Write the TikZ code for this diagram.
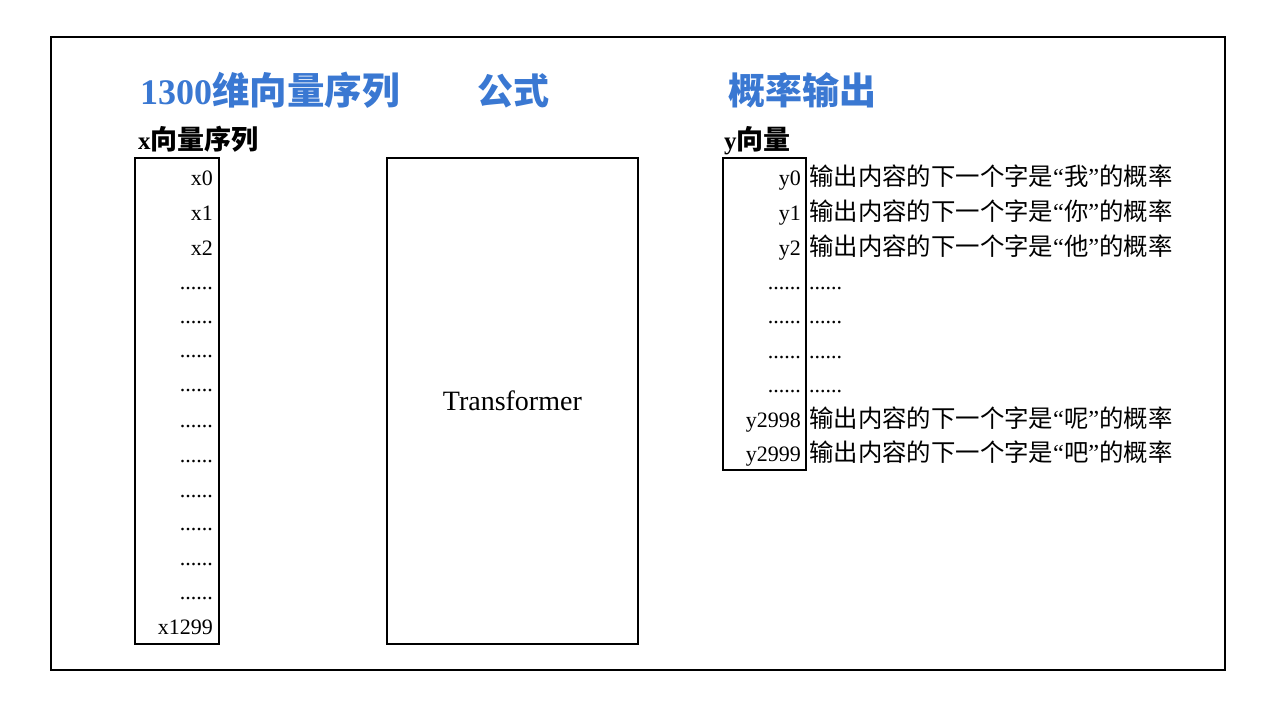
\documentclass[tikz,border=0pt]{standalone}
\usepackage{fontspec}
\setmainfont{Liberation Serif}
\newfontfamily\cjk{Noto Sans CJK SC}
\definecolor{titleblue}{RGB}{58,120,210}
\tikzset{
  frame/.style={draw=black,line width=1.8pt},
  vbox/.style={draw=black,line width=1.7pt},
  bigtitle/.style={anchor=base west,inner sep=0pt,text=titleblue,font=\cjk\bfseries\fontsize{36}{40}\selectfont},
  subtitle/.style={anchor=base west,inner sep=0pt,font=\bfseries\fontsize{25}{30}\selectfont},
  item/.style={anchor=base east,inner sep=0pt,font=\fontsize{22}{26}\selectfont},
  desc/.style={anchor=base west,inner sep=0pt,font=\cjk\fontsize{24.4}{28}\selectfont},
}
\newcommand{\myLQ}{{\rmfamily “}}
\newcommand{\myRQ}{{\rmfamily ”}}
\begin{document}
\begin{tikzpicture}[x=1pt,y=-1pt]
\useasboundingbox (0,0) rectangle (1280,720);
\node[frame,minimum width=1174pt,minimum height=633pt,anchor=north west,inner sep=0pt] (outer) at (50,36) {};
% titles
\node[bigtitle] (t1) at (140,104) {{\rmfamily\bfseries 1300}{\fontsize{37.5}{40}\selectfont 维向量序列}};
\node[bigtitle] (t2) at (477,104) {公式};
\node[bigtitle,font=\cjk\bfseries\fontsize{37}{40}\selectfont] (t3) at (728,104) {概率输出};
% subtitles
\node[subtitle] (xs) at (138,149) {x{\cjk\fontsize{27}{30}\selectfont 向量序列}};
\node[subtitle] (ys) at (724,149) {y{\cjk\fontsize{27}{30}\selectfont 向量}};
% boxes
\node[vbox,minimum width=84pt,minimum height=486pt,anchor=north west,inner sep=0pt] (xbox) at (134,157) {};
\node[vbox,minimum width=251pt,minimum height=486pt,anchor=north west,inner sep=0pt] (tbox) at (386,157) {};
\node[vbox,minimum width=83pt,minimum height=312pt,anchor=north west,inner sep=0pt] (ybox) at (722,157) {};
\node[font=\fontsize{28}{32}\selectfont] (tf) at (tbox.center) {Transformer};
% x items
\node[item] (x0) at (213,185) {x0};
\node[item] (x1) at (213,220) {x1};
\node[item] (x2) at (213,255) {x2};
\foreach \i/\yy in {3/289,4/323,5/357,6/391,7/427,8/462,9/497,10/530,11/565,12/599}{
  \node[item] (xd\i) at (213,\yy) {......};
}
\node[item] (x1299) at (213,634) {x1299};
% y items
\node[item] (y0) at (801,185) {y0};
\node[item] (y1) at (801,220) {y1};
\node[item] (y2) at (801,255) {y2};
\foreach \i/\yy in {3/289,4/323,5/358,6/392}{
  \node[item] (yd\i) at (801,\yy) {......};
  \node[item,anchor=base west] (pd\i) at (809,\yy) {......};
}
\node[item] (y2998) at (801,427) {y2998};
\node[item] (y2999) at (801,461) {y2999};
% descriptions
\node[desc] (p0) at (809,185) {输出内容的下一个字是\myLQ 我\myRQ 的概率};
\node[desc] (p1) at (809,220) {输出内容的下一个字是\myLQ 你\myRQ 的概率};
\node[desc] (p2) at (809,255) {输出内容的下一个字是\myLQ 他\myRQ 的概率};
\node[desc] (p2998) at (809,427) {输出内容的下一个字是\myLQ 呢\myRQ 的概率};
\node[desc] (p2999) at (809,461) {输出内容的下一个字是\myLQ 吧\myRQ 的概率};
\end{tikzpicture}
\end{document}
